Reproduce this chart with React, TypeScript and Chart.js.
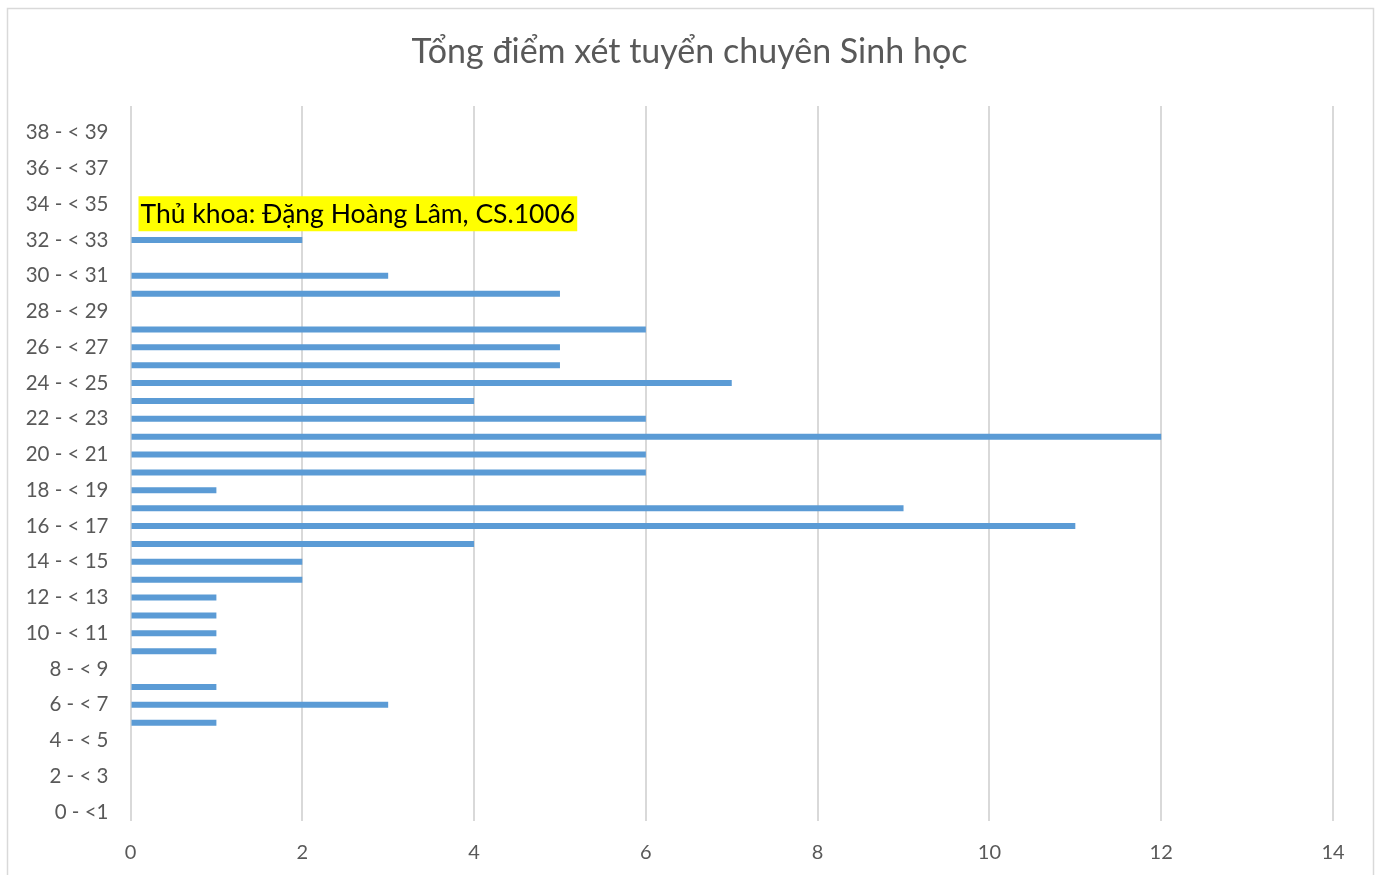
import React, { useEffect, useRef } from "react";
import { Chart, registerables } from "chart.js";

Chart.register(...registerables);

const categories: string[] = [
  "0 - <1", "1 - < 2", "2 - < 3", "3 - < 4", "4 - < 5", "5 - < 6", "6 - < 7", "7 - < 8",
  "8 - < 9", "9 - < 10", "10 - < 11", "11 - < 12", "12 - < 13", "13 - < 14", "14 - < 15",
  "15 - < 16", "16 - < 17", "17 - < 18", "18 - < 19", "19 - < 20", "20 - < 21", "21 - < 22",
  "22 - < 23", "23 - < 24", "24 - < 25", "25 - < 26", "26 - < 27", "27 - < 28", "28 - < 29",
  "29 - < 30", "30 - < 31", "31 - < 32", "32 - < 33", "33 - < 34", "34 - < 35", "35 - < 36",
  "36 - < 37", "37 - < 38", "38 - < 39", "39 - < 40",
];

const counts: number[] = [
  0, 0, 0, 0, 0, 1, 3, 1, 0, 1, 1, 1, 1, 2, 2, 4, 11, 9, 1, 6,
  6, 12, 6, 4, 7, 5, 5, 6, 0, 5, 3, 0, 2, 0, 0, 0, 0, 0, 0, 0,
];

const xTicks: number[] = [0, 2, 4, 6, 8, 10, 12, 14];

const titleText = "Tổng điểm xét tuyển chuyên Sinh học";
const noteText = "Thủ khoa: Đặng Hoàng Lâm, CS.1006";
const noteBetween: [number, number] = [33, 34];

const FONT = "Lato, 'Open Sans', 'Noto Sans', sans-serif";

export default function App() {
  const ref = useRef<HTMLCanvasElement | null>(null);

  useEffect(() => {
    document.body.style.margin = "0";
    document.body.style.overflow = "hidden";
    const canvas = ref.current;
    if (!canvas) return;

    const framePlugin = {
      id: "frame",
      beforeDraw(chart: any) {
        const ctx = chart.ctx;
        ctx.save();
        ctx.fillStyle = "#ffffff";
        ctx.fillRect(0, 0, chart.width, chart.height);
        ctx.strokeStyle = "#d9d9d9";
        ctx.lineWidth = 1.5;
        ctx.strokeRect(7.5, 8.5, 1366, 900);
        ctx.fillStyle = "#595959";
        ctx.font = `34px ${FONT}`;
        ctx.textAlign = "center";
        ctx.textBaseline = "middle";
        ctx.fillText(titleText, chart.width / 2, 52);
        ctx.restore();
      },
    };

    const notePlugin = {
      id: "note",
      afterDatasetsDraw(chart: any) {
        const ctx = chart.ctx;
        const xs = chart.scales.x;
        const ys = chart.scales.y;
        const yc = (ys.getPixelForValue(noteBetween[0]) + ys.getPixelForValue(noteBetween[1])) / 2;
        const x0 = xs.getPixelForValue(0) + 8;
        ctx.save();
        ctx.font = `26.5px ${FONT}`;
        const w = ctx.measureText(noteText).width;
        ctx.fillStyle = "#ffff00";
        ctx.fillRect(x0, yc - 17, w + 4, 35);
        ctx.fillStyle = "#000000";
        ctx.textBaseline = "middle";
        ctx.textAlign = "left";
        ctx.fillText(noteText, x0 + 2, yc + 1);
        ctx.restore();
      },
    };

    const chart = new Chart(canvas, {
      type: "bar",
      data: {
        labels: categories,
        datasets: [
          {
            data: counts,
            backgroundColor: "#5b9bd5",
            borderWidth: 0,
            inflateAmount: 0,
            barThickness: 6,
          },
        ],
      },
      options: {
        indexAxis: "y",
        responsive: false,
        animation: false,
        layout: { padding: { left: 0, right: 46, top: 106, bottom: 0 } },
        plugins: {
          legend: { display: false },
          tooltip: { enabled: false },
          title: { display: false },
        },
        scales: {
          x: {
            type: "linear",
            min: 0,
            max: 14,
            afterBuildTicks(scale: any) {
              scale.ticks = xTicks.map((v) => ({ value: v }));
            },
            afterFit(scale: any) {
              scale.height = 54;
            },
            grid: { color: "#d9d9d9", lineWidth: 2, drawTicks: false },
            border: { display: false },
            ticks: {
              color: "#595959",
              font: { family: FONT, size: 20 },
              padding: 20,
            },
          },
          y: {
            type: "category",
            reverse: true,
            afterFit(scale: any) {
              scale.width = 130.5;
            },
            grid: { display: false, drawTicks: false },
            border: { display: false },
            ticks: {
              autoSkip: false,
              color: "#595959",
              font: { family: FONT, size: 20.5 },
              padding: 22,
              callback(_v: any, index: number) {
                return index % 2 === 0 && index < 39 ? categories[index] : "";
              },
            },
          },
        },
      },
      plugins: [framePlugin, notePlugin],
    } as any);

    return () => chart.destroy();
  }, []);

  return (
    <div style={{ position: "fixed", left: 0, top: 0, width: 1379, height: 875 }}>
      <canvas ref={ref} width={1379} height={875} style={{ width: 1379, height: 875 }} />
    </div>
  );
}
